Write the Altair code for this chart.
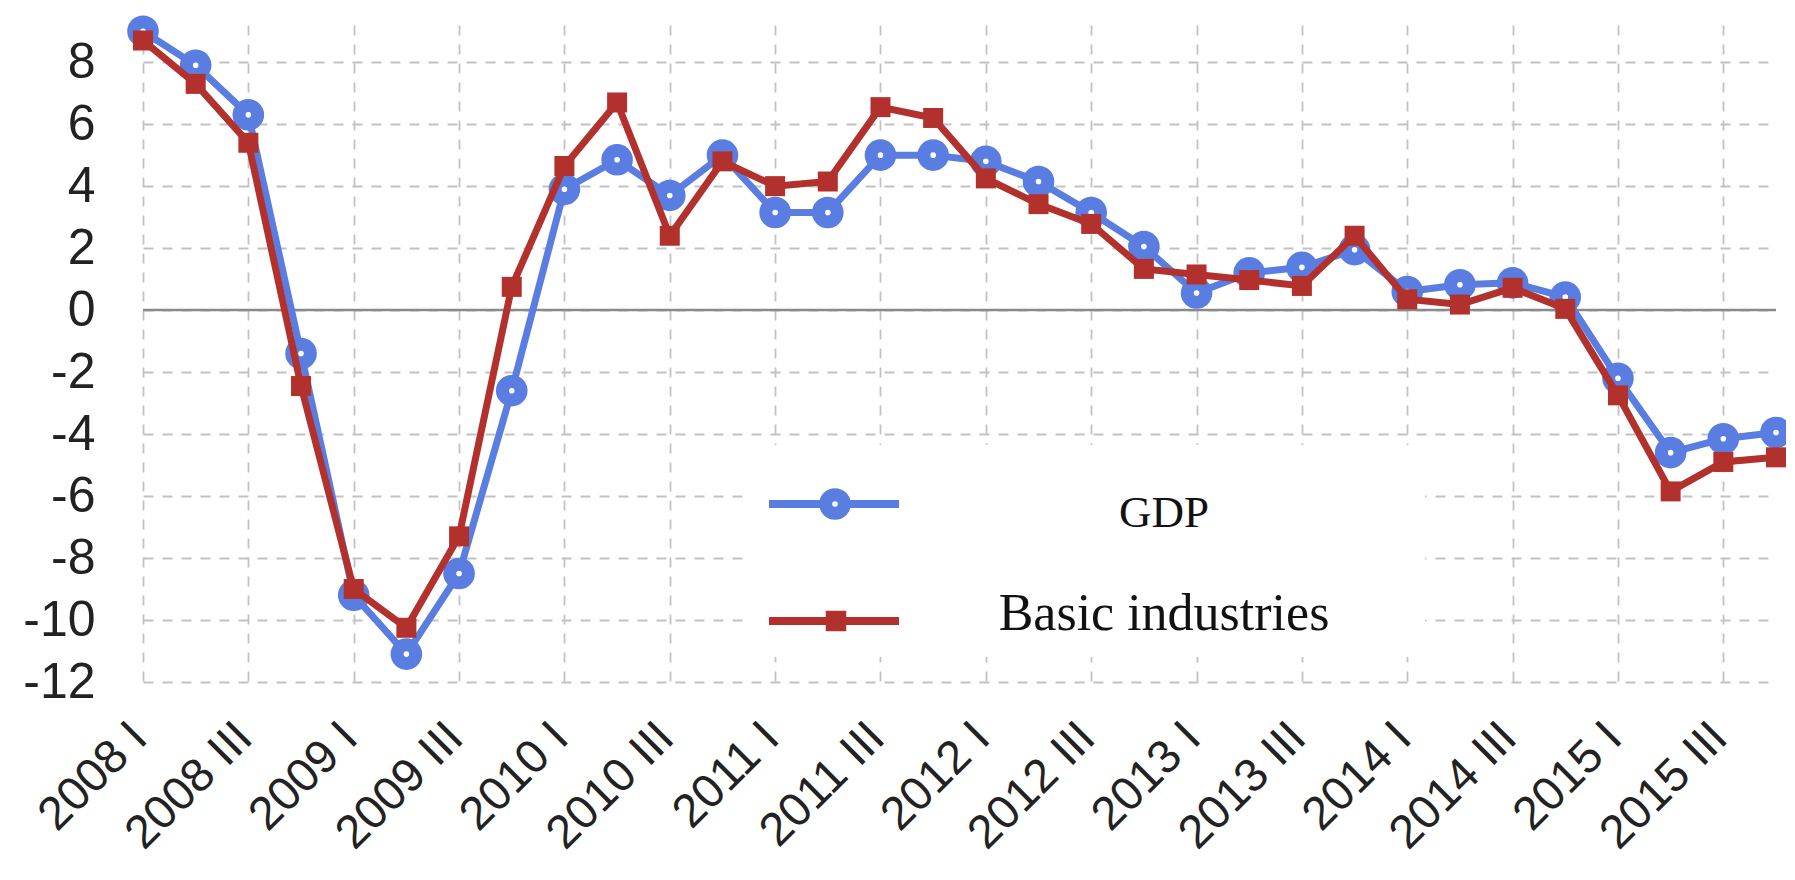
import altair as alt
import pandas as pd

years = ["2008", "2009", "2010", "2011", "2012", "2013", "2014", "2015"]
romans = ["I", "II", "III", "IV"]
quarters = [f"{y} {r}" for y in years for r in romans]
tick_labels = [f"{y} {r}" for y in years for r in ["I", "III"]]

gdp = [9.0, 7.9, 6.3, -1.4, -9.2, -11.1, -8.5, -2.6, 3.9, 4.85, 3.7, 5.0,
       3.15, 3.15, 5.0, 5.0, 4.8, 4.15, 3.15, 2.05, 0.55, 1.2, 1.38, 1.95,
       0.6, 0.82, 0.88, 0.42, -2.2, -4.6, -4.15, -3.95]
basic = [8.7, 7.3, 5.4, -2.45, -9.0, -10.25, -7.3, 0.75, 4.65, 6.7, 2.4, 4.8,
         4.0, 4.15, 6.55, 6.2, 4.25, 3.42, 2.78, 1.33, 1.15, 0.97, 0.78, 2.4,
         0.35, 0.18, 0.72, 0.04, -2.75, -5.85, -4.9, -4.75]
y_ticks = [-12, -10, -8, -6, -4, -2, 0, 2, 4, 6, 8]
series_names = ["GDP", "Basic industries"]

BLUE = "#5a7de2"
RED = "#b3312d"

df = pd.DataFrame({"quarter": quarters, "gdp": gdp, "basic": basic})

xenc = alt.X("quarter:O", sort=quarters, title=None,
             scale=alt.Scale(type="point", padding=0),
             axis=alt.Axis(values=tick_labels, labelAngle=-45, labelAlign="right",
                           labelBaseline="middle", labelPadding=48, labelOffset=-4,
                           labelFontSize=47, labelOverlap=False, labelBound=False))
yscale = alt.Scale(domain=[-12, 9.2], nice=False, zero=False)
yaxis = alt.Axis(values=y_ticks, labelFontSize=50, labelPadding=48, labelAlign="right",
                 labelExpr="'' + datum.value")

base = alt.Chart(df).encode(x=xenc)

zero = alt.Chart(pd.DataFrame({"z": [0]})).mark_rule(color="#8a8a8a", strokeWidth=2.5).encode(
    y=alt.Y("z:Q", scale=yscale, axis=yaxis, title=None))

gdp_line = base.mark_line(color=BLUE, strokeWidth=7).encode(
    y=alt.Y("gdp:Q", scale=yscale, axis=yaxis, title=None))
gdp_pts = base.mark_point(shape="circle", filled=False, fill="white", fillOpacity=1,
                          stroke=BLUE, strokeWidth=13, size=346, opacity=1).encode(
    y=alt.Y("gdp:Q", scale=yscale, axis=yaxis, title=None))
basic_line = base.mark_line(color=RED, strokeWidth=7).encode(
    y=alt.Y("basic:Q", scale=yscale, axis=yaxis, title=None))
basic_pts = base.mark_point(shape="square", filled=True, color=RED, size=400, opacity=1).encode(
    y=alt.Y("basic:Q", scale=yscale, axis=yaxis, title=None))

one = pd.DataFrame({"k": [1]})
legend_box = alt.Chart(one).mark_rect(fill="white").encode(
    x=alt.value(602), x2=alt.value(1282), y=alt.value(420), y2=alt.value(632))

leg_layers = []
# name, colour, symbol row y, label y, label font size
leg_rows = [(series_names[0], BLUE, 479, 488, 45), (series_names[1], RED, 596, 589, 52)]
for name, col, yy, ty, fs in leg_rows:
    leg_layers.append(alt.Chart(one).mark_rule(color=col, strokeWidth=8).encode(
        x=alt.value(626), x2=alt.value(756), y=alt.value(yy)))
    if name == "GDP":
        leg_layers.append(alt.Chart(one).mark_point(
            shape="circle", filled=False, fill="white", fillOpacity=1, stroke=col,
            strokeWidth=13, size=346, opacity=1).encode(x=alt.value(692), y=alt.value(yy)))
    else:
        leg_layers.append(alt.Chart(one).mark_point(
            shape="square", filled=True, color=col, size=420, opacity=1).encode(
            x=alt.value(693), y=alt.value(yy)))
    leg_layers.append(alt.Chart(pd.DataFrame({"label": [name]})).mark_text(
        font="Liberation Serif", fontSize=fs, color="#111", align="center",
        baseline="middle").encode(text="label:N", x=alt.value(1021), y=alt.value(ty)))

chart = alt.layer(zero, gdp_line, gdp_pts, basic_line, basic_pts, legend_box, *leg_layers).properties(
    width=1633, height=657,
    autosize=alt.AutoSizeParams(type="none"),
    padding={"left": 135, "top": 17, "right": 10, "bottom": 180},
).configure_view(stroke=None).configure_axis(
    domain=False, ticks=False, grid=True, gridDash=[10, 9], gridColor="#c2c2c2",
    gridWidth=1.8, labelFont="Liberation Sans", labelColor="#222",
)

chart.save("out.html", embed_options={"renderer": "svg", "actions": False})
